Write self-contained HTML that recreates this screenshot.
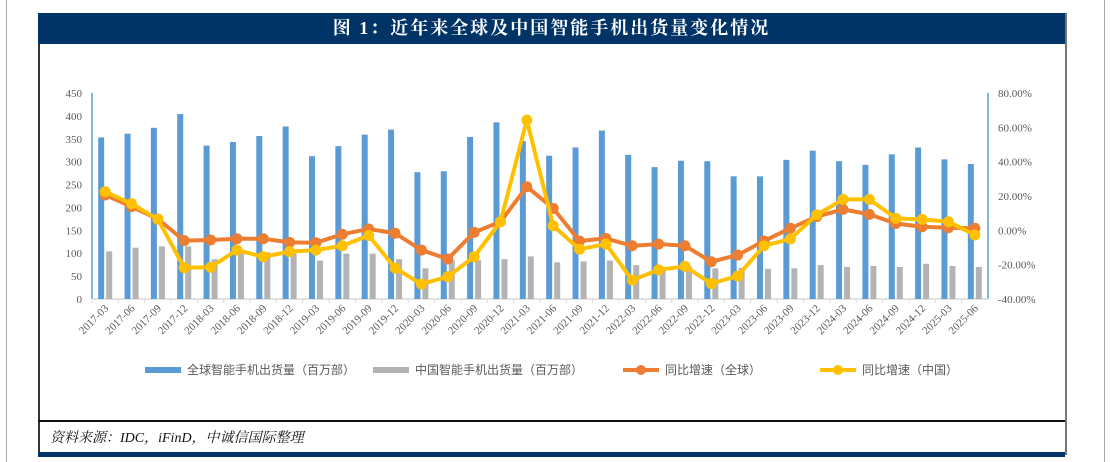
<!DOCTYPE html>
<html><head><meta charset="utf-8"><style>
body{margin:0;width:1111px;height:462px;background:#fff;position:relative;overflow:hidden;font-family:"Liberation Serif","Noto Serif CJK SC",serif}
.abs{position:absolute}
</style></head><body>
<div class="abs" style="left:6px;top:0;width:1px;height:462px;background:#aaa"></div>
<div class="abs" style="left:1104px;top:0;width:1px;height:462px;background:#aaa"></div>
<div class="abs" style="left:38px;top:13px;width:1025px;height:442px;border-left:2px solid #333;border-right:2px solid #777"></div>
<div class="abs" style="left:38px;top:13px;width:1027px;height:31px;background:#003366;color:#fff;font-size:18px;font-weight:bold;text-align:center;line-height:31px;letter-spacing:2px">图 1：近年来全球及中国智能手机出货量变化情况</div>
<div class="abs" style="left:38px;top:420px;width:1027px;height:2px;background:#111"></div>
<div class="abs" style="left:50px;top:427px;font-size:14px;font-style:italic;color:#111">资料来源：IDC，iFinD，中诚信国际整理</div>
<div class="abs" style="left:38px;top:452px;width:1027px;height:5px;background:#003366"></div>
<svg id="chart" class="abs" style="left:0;top:0" width="1111" height="462"></svg>
<script>
const categories=["2017-03","2017-06","2017-09","2017-12","2018-03","2018-06","2018-09","2018-12","2019-03","2019-06","2019-09","2019-12","2020-03","2020-06","2020-09","2020-12","2021-03","2021-06","2021-09","2021-12","2022-03","2022-06","2022-09","2022-12","2023-03","2023-06","2023-09","2023-12","2024-03","2024-06","2024-09","2024-12","2025-03","2025-06"];
const globalShip=[353,361,374,404,335,343,356,377,312,334,359,370,277,279,354,386,345,313,331,368,315,288,302,301,268,268,304,324,301,293,316,331,305,295];
const chinaShip=[104,112,115,115,87,100,102,100,84,99,99,87,67,85,85,87,93,80,82,84,74,70,71,67,68,66,67,74,70,72,70,77,72,70];
const globalYoY=[20.6,13.8,6.6,-6,-5.6,-4.9,-4.9,-7,-7.2,-2.3,0.8,-1.7,-11.5,-16.7,-1.2,5,25.4,12.8,-6.2,-4.7,-9,-8,-9,-18.3,-14.4,-6.2,1.2,8,12.2,9.3,4,2.1,1.5,1.2];
const chinaYoY=[22.5,15.5,6.5,-21.8,-21.5,-11.5,-15.4,-12.4,-11.5,-9,-3,-22,-31.3,-27,-15.4,5,64.2,2.7,-11,-8,-29,-23,-21,-31,-26.6,-9,-5,9,18,18,7,6.4,5,-2.7];
const leftTicks=[0,50,100,150,200,250,300,350,400,450];
const rightTicks=[-40,-20,0,20,40,60,80];
const NS="http://www.w3.org/2000/svg";
const svg=document.getElementById('chart');
const X0=92,X1=988,Y0=299,Y1=93;
const bw=(X1-X0)/categories.length;
function xc(i){return X0+bw*(i+0.5);}
function yL(v){return Y0-(v/450)*(Y0-Y1);}
function yR(v){return Y0-((v+40)/120)*(Y0-Y1);}
function mk(tag,attrs,parent){const e=document.createElementNS(NS,tag);for(const k in attrs)e.setAttribute(k,attrs[k]);(parent||svg).appendChild(e);return e;}
let a=mk('line',{x1:X0,y1:Y1,x2:X0,y2:Y0,stroke:'#5b9bd5','stroke-width':1.5});


a=mk('line',{x1:X1,y1:Y1,x2:X1,y2:Y0,stroke:'#5b9bd5','stroke-width':1.5});


a=mk('line',{x1:X0,y1:Y0,x2:X1,y2:Y0,stroke:'#d9d9d9','stroke-width':1.5});


leftTicks.forEach(v=>{const t=mk('text',{x:X0-10,y:yL(v)+4,'text-anchor':'end','font-size':11,fill:'#595959','font-family':'Liberation Serif'});t.textContent=v;

});
rightTicks.forEach(v=>{const t=mk('text',{x:X1+10,y:yR(v)+4,'font-size':11,fill:'#595959','font-family':'Liberation Serif'});t.textContent=v.toFixed(2)+'%';

});
categories.forEach((c,i)=>{
 const tk=mk('line',{x1:X0+bw*i,y1:Y0,x2:X0+bw*i,y2:Y0+4,stroke:'#d9d9d9'});
 
 
 const x=xc(i)+4,y=Y0+10;
 const t=mk('text',{x:x,y:y,'text-anchor':'end','font-size':11,fill:'#595959','font-family':'Liberation Serif',transform:`rotate(-45 ${x} ${y})`});t.textContent=c;
 
 
 const b=mk('rect',{x:xc(i)-7,y:yL(globalShip[i]),width:6,height:Y0-yL(globalShip[i]),fill:'#5b9bd5'});
 
 
 const g=mk('rect',{x:xc(i)+1,y:yL(chinaShip[i]),width:6,height:Y0-yL(chinaShip[i]),fill:'#b3b3b3'});
 
 
});
function line(vals,color,name){
 const p=mk('polyline',{points:vals.map((v,i)=>xc(i)+','+yR(v)).join(' '),fill:'none',stroke:color,'stroke-width':4,'stroke-linejoin':'round'});
 
 
 vals.forEach((v,i)=>{const c=mk('circle',{cx:xc(i),cy:yR(v),r:5.5,fill:color});
 
 });
}
line(globalYoY,'#ed7d31','global-yoy');
line(chinaYoY,'#ffc000','china-yoy');
const LY=370;
function leg(x,type,color,label,name){
 const g=mk('g',{});
 
 
 if(type==='bar')mk('rect',{x:x,y:LY-3,width:36,height:6,fill:color},g);
 else{mk('line',{x1:x,y1:LY,x2:x+36,y2:LY,stroke:color,'stroke-width':4},g);mk('circle',{cx:x+18,cy:LY,r:5,fill:color},g);}
 const t=mk('text',{x:x+42,y:LY+4,'font-size':12,fill:'#595959','font-family':'Liberation Sans, Noto Sans CJK SC, sans-serif'},g);t.textContent=label;
}
leg(145,'bar','#5b9bd5','全球智能手机出货量（百万部）','legend-global-shipments');
leg(373,'bar','#b3b3b3','中国智能手机出货量（百万部）','legend-china-shipments');
leg(623,'line','#ed7d31','同比增速（全球）','legend-global-yoy');
leg(820,'line','#ffc000','同比增速（中国）','legend-china-yoy');
</script>
</body></html>
